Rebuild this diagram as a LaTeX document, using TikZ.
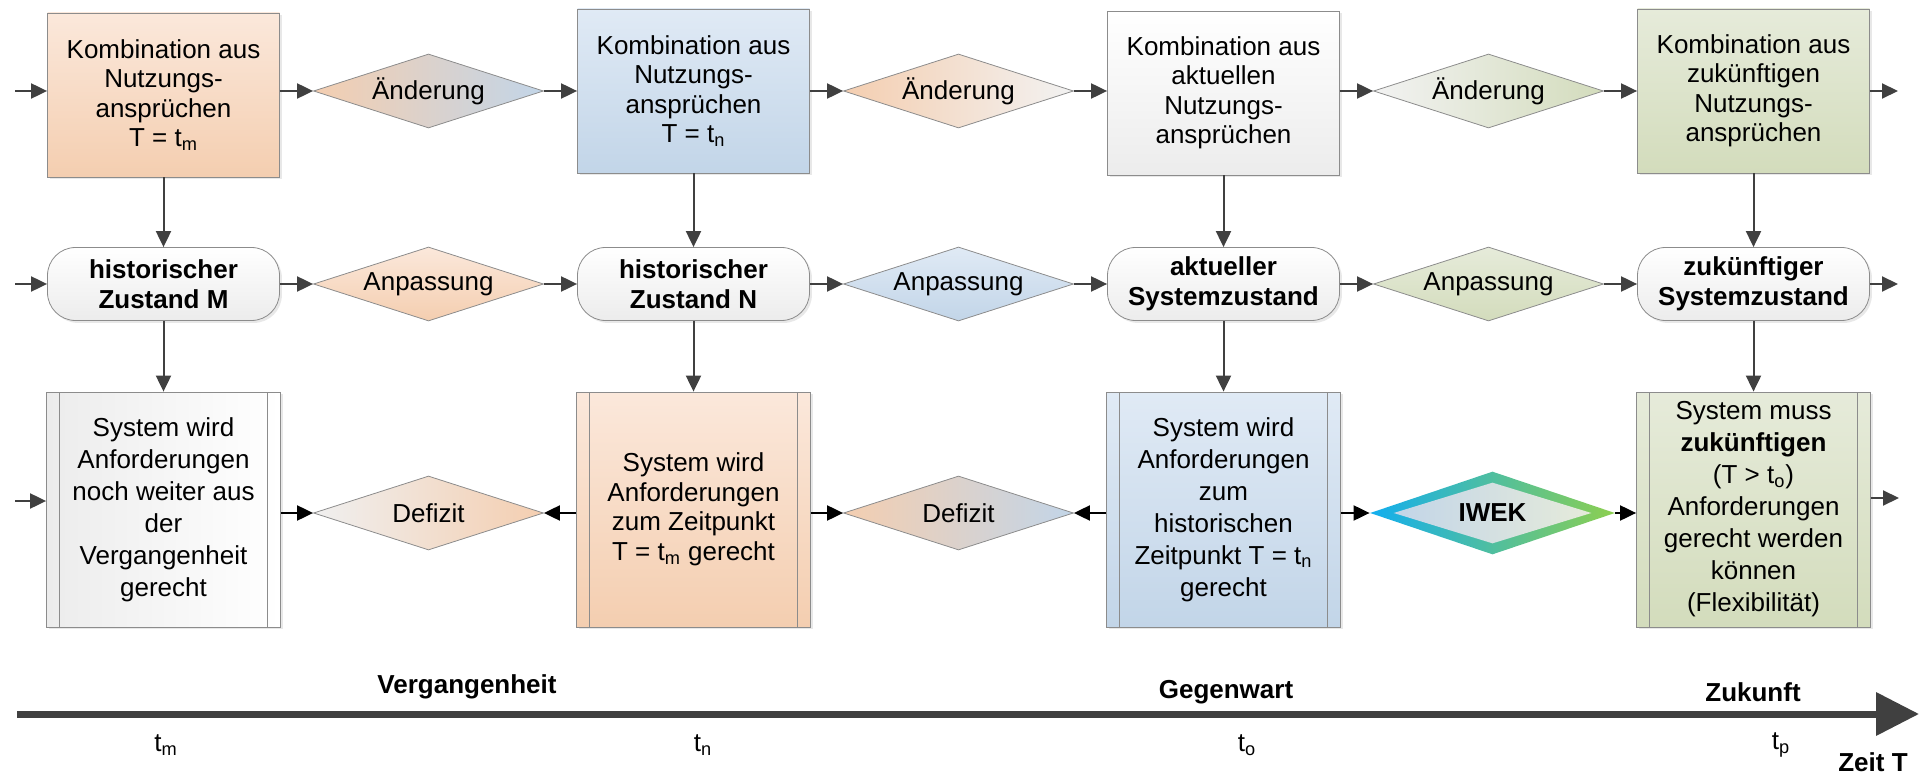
\documentclass[tikz,border=0pt]{standalone}
\usepackage{fontspec}
\setmainfont{Liberation Sans}
\usetikzlibrary{shapes.geometric,arrows.meta,shadows}
\definecolor{rand}{HTML}{8C8C8C}
\definecolor{pfeil}{HTML}{404040}
\definecolor{orOben}{HTML}{FBE8DB}
\definecolor{orUnten}{HTML}{F4CEB0}
\definecolor{blOben}{HTML}{E0EAF5}
\definecolor{blUnten}{HTML}{C2D5E8}
\definecolor{grOben}{HTML}{E6EBDA}
\definecolor{grUnten}{HTML}{D3DCBC}
\definecolor{wsUnten}{HTML}{ECECEC}
\definecolor{iwekA}{HTML}{12AEEF}
\definecolor{iwekB}{HTML}{8DCF4F}
\begin{document}
\begin{tikzpicture}[x=1pt, y=-1pt,
  every node/.style={font=\fontsize{13}{14.75}\selectfont, align=center, text=black},
  schatten/.style={drop shadow={opacity=0.18, shadow xshift=1.2pt, shadow yshift=-1.2pt}},
  kasten/.style={rectangle, draw=rand, schatten, minimum width=116pt, minimum height=82pt, inner sep=2pt},
  zustand/.style={rectangle, rounded corners=14pt, draw=rand, schatten, minimum width=116pt, minimum height=36.5pt,
    top color=white, bottom color=wsUnten, font=\fontsize{13}{14.75}\selectfont\bfseries},
  prozess/.style={rectangle, draw=rand, schatten, minimum width=117pt, minimum height=117.5pt, inner sep=2pt,
    path picture={\draw[rand] ([xshift=6.5pt]path picture bounding box.north west) -- ([xshift=6.5pt]path picture bounding box.south west)
      ([xshift=-6.5pt]path picture bounding box.north east) -- ([xshift=-6.5pt]path picture bounding box.south east);}},
  raute/.style={diamond, draw=rand, aspect=3, inner sep=0pt, minimum width=115pt, minimum height=37pt},
  pf/.style={-{Triangle[length=8pt,width=7.5pt]}, line width=1pt, draw=pfeil},
  pfs/.style={pf, draw=black},
  fett/.style={font=\fontsize{13}{14.75}\selectfont\bfseries}
]
\useasboundingbox (0,0) rectangle (963.5,387.5);

% Kombinationen
\node[kasten, top color=orOben, bottom color=orUnten] (kombi1) at (81.75,47.5) {Kombination aus\\Nutzungs-\\ansprüchen\\T = t\textsubscript{m}};
\node[kasten, top color=blOben, bottom color=blUnten] (kombi2) at (346.75,45.5) {Kombination aus\\Nutzungs-\\ansprüchen\\T = t\textsubscript{n}};
\node[kasten, top color=white, bottom color=wsUnten] (kombi3) at (611.75,46.5) {Kombination aus\\aktuellen\\Nutzungs-\\ansprüchen};
\node[kasten, top color=grOben, bottom color=grUnten] (kombi4) at (876.75,45.5) {Kombination aus\\zukünftigen\\Nutzungs-\\ansprüchen};
\node[raute, left color=orUnten, right color=blUnten] (aend1) at (214.25,45.5) {Änderung};
\node[raute, left color=orUnten, right color=white!95!black] (aend2) at (479.25,45.5) {Änderung};
\node[raute, left color=white!95!black, right color=grUnten] (aend3) at (744.25,45.5) {Änderung};

% Zustaende
\node[zustand] (zust1) at (81.75,142) {historischer\\Zustand M};
\node[zustand] (zust2) at (346.75,142) {historischer\\Zustand N};
\node[zustand] (zust3) at (611.75,142) {aktueller\\Systemzustand};
\node[zustand] (zust4) at (876.75,142) {zukünftiger\\Systemzustand};
\node[raute, top color=orOben, bottom color=orUnten] (anp1) at (214.25,142) {Anpassung};
\node[raute, top color=blOben, bottom color=blUnten] (anp2) at (479.25,142) {Anpassung};
\node[raute, top color=grOben, bottom color=grUnten] (anp3) at (744.25,142) {Anpassung};

% Systeme
\node[prozess, left color=wsUnten, right color=white, font=\fontsize{13}{16}\selectfont] (sys1) at (81.75,254.75) {System wird\\Anforderungen\\noch weiter aus\\der\\Vergangenheit\\gerecht};
\node[prozess, top color=orOben, bottom color=orUnten] (sys2) at (346.75,254.75) {System wird\\Anforderungen\\zum Zeitpunkt\\T = t\textsubscript{m} gerecht};
\node[prozess, top color=blOben, bottom color=blUnten, font=\fontsize{13}{16}\selectfont] (sys3) at (611.75,254.75) {System wird\\Anforderungen\\zum\\historischen\\Zeitpunkt T = t\textsubscript{n}\\gerecht};
\node[prozess, top color=grOben, bottom color=grUnten, font=\fontsize{13}{16}\selectfont] (sys4) at (876.75,254.75) {System muss\\\textbf{zukünftigen}\\(T > t\textsubscript{o})\\Anforderungen\\gerecht werden\\können\\(Flexibilität)};
\node[raute, left color=white!94!black, right color=orUnten] (def1) at (214.25,256.5) {Defizit};
\node[raute, left color=orUnten, right color=blUnten] (def2) at (479.25,256.5) {Defizit};
\node[diamond, aspect=3, inner sep=0pt, minimum width=122.5pt, minimum height=41.5pt, left color=iwekA, right color=iwekB] (iwek) at (746.25,256.5) {};
\node[diamond, aspect=3, inner sep=0pt, minimum width=99pt, minimum height=30.5pt, left color=blUnten, right color=grOben, fett] (iwekIn) at (iwek) {IWEK};

% Pfeile
\coordinate (ein1) at (7.5,45.5);
\coordinate (ein2) at (7.5,142);
\coordinate (ein3) at (7.5,250.5);
\coordinate (aus1) at (949,45.5);
\coordinate (aus2) at (949,142);
\coordinate (aus3) at (949.5,249);
\draw[pf] (ein1) -- (ein1 -| kombi1.west);
\draw[pf] (ein2) -- (zust1.west);
\draw[pf] (ein3) -- (ein3 -| sys1.west);
\draw[pf] (kombi4.east |- aus1) -- (aus1);
\draw[pf] (zust4.east) -- (aus2);
\draw[pf] (sys4.east |- aus3) -- (aus3);
\draw[pf] (kombi1.east |- aend1) -- (aend1.west);
\draw[pf] (aend1.east) -- (kombi2.west |- aend1);
\draw[pf] (kombi2.east |- aend2) -- (aend2.west);
\draw[pf] (aend2.east) -- (kombi3.west |- aend2);
\draw[pf] (kombi3.east |- aend3) -- (aend3.west);
\draw[pf] (aend3.east) -- (kombi4.west |- aend3);
\draw[pf] (zust1.east) -- (anp1.west);
\draw[pf] (anp1.east) -- (zust2.west);
\draw[pf] (zust2.east) -- (anp2.west);
\draw[pf] (anp2.east) -- (zust3.west);
\draw[pf] (zust3.east) -- (anp3.west);
\draw[pf] (anp3.east) -- (zust4.west);
\foreach \i in {1,...,4}{
  \draw[pf] (kombi\i) -- (zust\i);
  \draw[pf] (zust\i) -- (sys\i);
}
\draw[pfs] (sys1.east |- def1) -- (def1.west);
\draw[pfs] (sys2.west |- def1) -- (def1.east);
\draw[pfs] (sys2.east |- def2) -- (def2.west);
\draw[pfs] (sys3.west |- def2) -- (def2.east);
\draw[pfs] (sys3.east |- iwek) -- (iwek.west);
\draw[pfs] (iwek.east) -- (sys4.west |- iwek);

% Zeitachse
\coordinate (achseA) at (8.5,357);
\coordinate (achseB) at (959.5,357);
\draw[line width=3.5pt, draw=pfeil, -{Triangle[length=21.5pt,width=21pt]}] (achseA) -- (achseB);
\node[fett] (verg) at (233.5,343.5) {Vergangenheit};
\node[fett] (gegen) at (613,346) {Gegenwart};
\node[fett] (zuk) at (876.5,346) {Zukunft};
\node (tm) at (83,372.5) {t\textsubscript{m}};
\node (tn) at (351.5,372.5) {t\textsubscript{n}};
\node (to) at (623.5,372.5) {t\textsubscript{o}};
\node (tp) at (890.5,372.5) {t\textsubscript{p}};
\node[fett] (zeit) at (936.5,381) {Zeit T};
\end{tikzpicture}
\end{document}
